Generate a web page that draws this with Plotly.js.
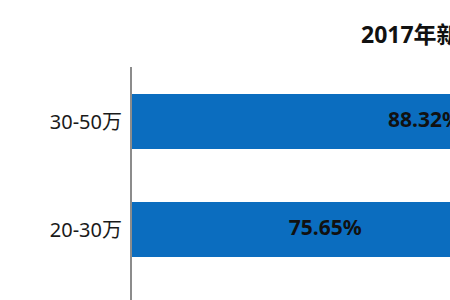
<!DOCTYPE html>
<html>
<head>
<meta charset="utf-8">
<script src="https://cdn.plot.ly/plotly-3.0.1.min.js"></script>
<style>
html,body{margin:0;padding:0;overflow:hidden;background:#fff;}
#chart{width:900px;height:300px;}
</style>
</head>
<body>
<div id="chart"></div>
<script>
// Data (bottom-to-top order as in a horizontal bar chart)
const categories = ["20-30万", "30-50万"];
const values = [75.65, 88.32];
const labels = ["75.65%", "88.32%"];
const titleText = "2017年新能源汽车价格区间占比";

const FONT = "Noto Sans, Noto Sans CJK SC, sans-serif";
const X_RANGE = [51, 100];

const bars = {
  type: "bar",
  orientation: "h",
  y: categories,
  x: values,
  marker: {color: "#0b6dbf", line: {width: 0}},
  hoverinfo: "none"
};

// value labels centred on the visible part of each bar
const valueLabels = {
  type: "scatter",
  mode: "text",
  y: categories,
  x: values.map(v => (X_RANGE[0] + v) / 2),
  text: labels,
  textposition: "middle center",
  textfont: {family: FONT, size: 21, color: "#111111", weight: 700},
  hoverinfo: "none",
  cliponaxis: false
};

const layout = {
  width: 900,
  height: 300,
  margin: {l: 132, r: 0, t: 67, b: 0},
  paper_bgcolor: "#ffffff",
  plot_bgcolor: "#ffffff",
  bargap: 0.49,
  showlegend: false,
  title: {
    text: "<b>" + titleText + "</b>",
    font: {family: FONT, size: 23, color: "#111111"},
    xref: "container", yref: "container",
    x: 361/900, xanchor: "left",
    y: 1 - 35/300, yanchor: "middle"
  },
  xaxis: {
    range: X_RANGE,
    showgrid: false, zeroline: false, showline: false,
    showticklabels: false, ticks: ""
  },
  yaxis: {
    type: "category",
    range: [-0.653, 1.505],
    showgrid: false, zeroline: false,
    showline: true, linecolor: "#8c8c8c", linewidth: 2,
    ticks: "", ticklabelstandoff: 4,
    tickfont: {family: FONT, size: 20, color: "#1a1a1a"}
  }
};

Plotly.newPlot("chart", [bars, valueLabels], layout, {staticPlot: true, displayModeBar: false});
</script>
</body>
</html>
